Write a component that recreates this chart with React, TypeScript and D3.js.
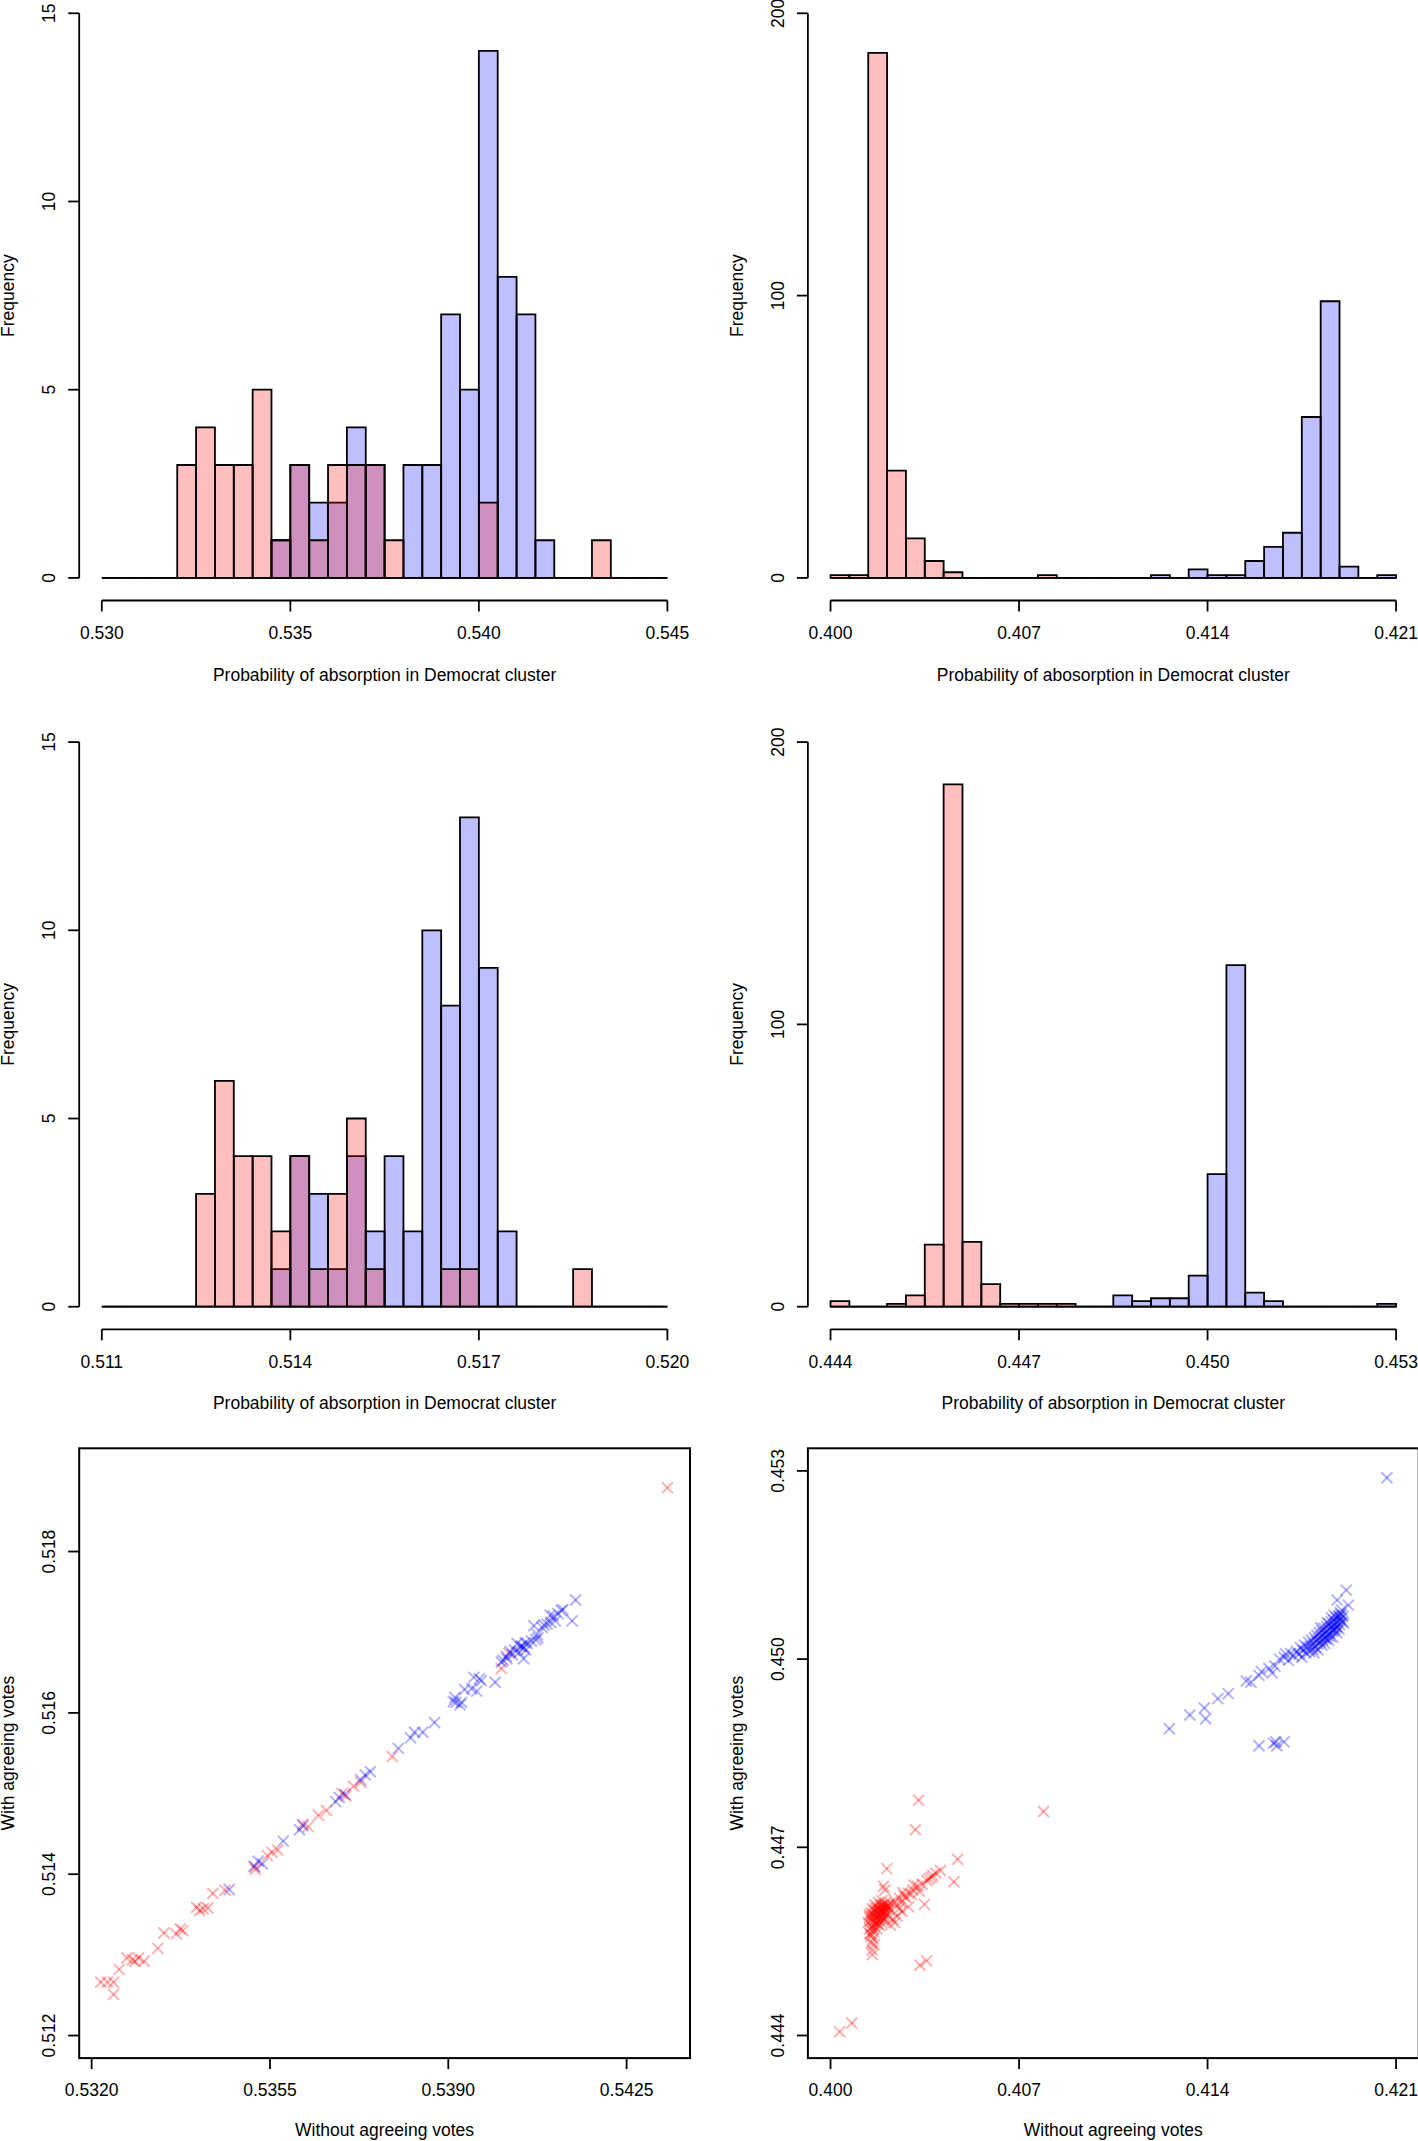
import * as d3 from "d3";

const FONT = "'Liberation Sans', Arial, Helvetica, sans-serif";
const FS = 17.5;
const COLS = [79.2, 807.9];
const ROWS = [-9.3, 719.5, 1448.3];
const PW = 610.8;
const PH = 609.8;
const RED = "rgba(255,0,0,0.25)";
const BLUE = "rgba(0,0,255,0.25)";
const RED_PT = "rgba(255,0,0,0.3)";
const BLUE_PT = "rgba(0,0,255,0.3)";

// histogram counts, 30 equal bins between first and last x tick
const senateNoAgreeRed = [0, 0, 0, 0, 3, 4, 3, 3, 5, 1, 3, 1, 3, 3, 3, 1, 0, 0, 0, 0, 2, 0, 0, 0, 0, 0, 1, 0, 0, 0];
const senateNoAgreeBlue = [0, 0, 0, 0, 0, 0, 0, 0, 0, 1, 3, 2, 2, 4, 3, 0, 3, 3, 7, 5, 14, 8, 7, 1, 0, 0, 0, 0, 0, 0];
const houseNoAgreeRed = [1, 1, 186, 38, 14, 6, 2, 0, 0, 0, 0, 1, 0, 0, 0, 0, 0, 0, 0, 0, 0, 0, 0, 0, 0, 0, 0, 0, 0, 0];
const houseNoAgreeBlue = [0, 0, 0, 0, 0, 0, 0, 0, 0, 0, 0, 0, 0, 0, 0, 0, 0, 1, 0, 3, 1, 1, 6, 11, 16, 57, 98, 4, 0, 1];
const senateAgreeRed = [0, 0, 0, 0, 0, 3, 6, 4, 4, 2, 4, 1, 3, 5, 1, 0, 0, 0, 1, 1, 0, 0, 0, 0, 0, 1, 0, 0, 0, 0];
const senateAgreeBlue = [0, 0, 0, 0, 0, 0, 0, 0, 0, 1, 4, 3, 1, 4, 2, 4, 2, 10, 8, 13, 9, 2, 0, 0, 0, 0, 0, 0, 0, 0];
const houseAgreeRed = [2, 0, 0, 1, 4, 22, 185, 23, 8, 1, 1, 1, 1, 0, 0, 0, 0, 0, 0, 0, 0, 0, 0, 0, 0, 0, 0, 0, 0, 0];
const houseAgreeBlue = [0, 0, 0, 0, 0, 0, 0, 0, 0, 0, 0, 0, 0, 0, 0, 4, 2, 3, 3, 11, 47, 121, 5, 2, 0, 0, 0, 0, 0, 1];

// ticks
const senateNoAgreeTicks = [0.53, 0.535, 0.54, 0.545];
const houseNoAgreeTicks = [0.4, 0.407, 0.414, 0.421];
const senateAgreeTicks = [0.511, 0.514, 0.517, 0.52];
const houseAgreeTicks = [0.444, 0.447, 0.45, 0.453];
const countTicksSmall = [0, 5, 10, 15];
const countTicksLarge = [0, 100, 200];
const senateScatterXTicks = [0.532, 0.5355, 0.539, 0.5425];
const senateScatterYTicks = [0.512, 0.514, 0.516, 0.518];
const senateScatterXLim = [0.5322, 0.5433];
const senateScatterYLim = [0.512, 0.519];
const houseScatterXLim = [0.4, 0.421];
const houseScatterYLim = [0.444, 0.453];

// scatter points [without agreeing, with agreeing]
const senateRedPts: [number, number][] = [
  [0.53218, 0.51266], [0.53231, 0.51266], [0.53243, 0.51266], [0.53243, 0.51251], [0.53254, 0.51282],
  [0.53269, 0.51296], [0.5328, 0.51294], [0.53285, 0.51292], [0.53292, 0.51296], [0.53303, 0.51292],
  [0.5333, 0.51308], [0.53342, 0.51327], [0.53366, 0.51326], [0.53374, 0.51332], [0.53379, 0.5133],
  [0.53406, 0.51359], [0.53412, 0.51355], [0.53419, 0.51357], [0.53428, 0.51358], [0.53438, 0.51376],
  [0.53462, 0.5138], [0.5352, 0.51409], [0.53521, 0.51406], [0.53545, 0.51423], [0.53554, 0.51427],
  [0.53565, 0.5143], [0.53614, 0.51462], [0.53625, 0.51459], [0.53645, 0.51473], [0.53661, 0.51479],
  [0.53692, 0.515], [0.53699, 0.51497], [0.53714, 0.51509], [0.53728, 0.51514], [0.5379, 0.51546],
  [0.54004, 0.51655], [0.54019, 0.51674], [0.5433, 0.51879],
];
const senateBluePts: [number, number][] = [
  [0.5347, 0.51381], [0.53519, 0.5141], [0.53527, 0.51416], [0.53535, 0.51413], [0.53576, 0.51441],
  [0.53608, 0.51455], [0.53615, 0.5146], [0.53679, 0.5149], [0.53686, 0.51495], [0.53697, 0.51499],
  [0.53728, 0.51517], [0.53737, 0.51523], [0.53747, 0.51527], [0.53802, 0.51556], [0.53826, 0.51569],
  [0.53834, 0.51576], [0.5385, 0.51576], [0.53873, 0.51588], [0.5391, 0.51614], [0.53915, 0.51613],
  [0.53923, 0.5161], [0.53932, 0.51629], [0.5395, 0.51644], [0.53956, 0.51627], [0.53961, 0.51642],
  [0.53965, 0.5164], [0.53992, 0.51638], [0.54004, 0.51663], [0.54008, 0.51665], [0.54014, 0.5167],
  [0.54021, 0.51676], [0.54035, 0.51686], [0.54044, 0.51683], [0.54048, 0.51681], [0.54051, 0.51687],
  [0.54048, 0.51667], [0.54055, 0.51686], [0.54063, 0.51689], [0.54068, 0.51708], [0.54072, 0.51691],
  [0.54076, 0.51693], [0.54088, 0.51709], [0.54094, 0.5171], [0.541, 0.51721], [0.54106, 0.5172],
  [0.5411, 0.51714], [0.54122, 0.51727], [0.54125, 0.51728], [0.54143, 0.51714], [0.5415, 0.5174],
  [0.54039, 0.51675], [0.54042, 0.51682], [0.5403, 0.51678], [0.54026, 0.51672], [0.54015, 0.51667],
  [0.53913, 0.51619], [0.53946, 0.5163], [0.54052, 0.51678], [0.54075, 0.51697], [0.54084, 0.51706],
  [0.54101, 0.51712], [0.54115, 0.51723], [0.53926, 0.51613],
];
const houseRedPts: [number, number][] = [
  [0.40034, 0.44406], [0.40079, 0.4442], [0.40327, 0.44775], [0.40315, 0.44728], [0.40791, 0.44757],
  [0.40209, 0.44666], [0.40197, 0.44638], [0.40202, 0.44632], [0.40472, 0.44681], [0.40458, 0.44645],
  [0.40349, 0.44609], [0.40332, 0.44512], [0.40357, 0.44519],
  [0.40155, 0.44529], [0.40155, 0.44536], [0.40152, 0.44547], [0.40158, 0.44554], [0.40147, 0.44563],
  [0.4015, 0.44558], [0.40162, 0.44545], [0.4016, 0.4457],
  [0.40408, 0.44663], [0.40391, 0.44659], [0.40374, 0.44652], [0.40357, 0.44647], [0.4034, 0.44641],
  [0.40323, 0.44638], [0.40306, 0.44632], [0.4029, 0.44627], [0.40273, 0.44623], [0.40256, 0.44619],
  [0.40239, 0.44614], [0.40222, 0.44611], [0.40214, 0.44605], [0.4038, 0.44655], [0.40365, 0.4465],
  [0.403, 0.44625], [0.4028, 0.4462], [0.40262, 0.44612], [0.40245, 0.44608], [0.4033, 0.4463],
  [0.4031, 0.4464], [0.40268, 0.44628],
  [0.40239, 0.4458], [0.40222, 0.44576], [0.40248, 0.4459], [0.40265, 0.44598], [0.4023, 0.44585],
  [0.4029, 0.44605], [0.40255, 0.44602],
  [0.4014, 0.4458], [0.40145, 0.44588], [0.4015, 0.44595], [0.40152, 0.44573], [0.40155, 0.44602],
  [0.40158, 0.44582], [0.4016, 0.44565], [0.40162, 0.44591], [0.40165, 0.44608], [0.40166, 0.44577],
  [0.40168, 0.44586], [0.4017, 0.44597], [0.40172, 0.4457], [0.40173, 0.44604], [0.40175, 0.44583],
  [0.40177, 0.44592], [0.40178, 0.44612], [0.4018, 0.44576], [0.40182, 0.44599], [0.40183, 0.44587],
  [0.40185, 0.44606], [0.40187, 0.44581], [0.40188, 0.44594], [0.4019, 0.44615], [0.40192, 0.44589],
  [0.40193, 0.44601], [0.40195, 0.44584], [0.40197, 0.44609], [0.40198, 0.44596], [0.402, 0.44603],
  [0.40202, 0.4459], [0.40204, 0.44611], [0.40206, 0.44598], [0.40208, 0.44605], [0.40211, 0.44593],
  [0.40145, 0.4457], [0.40148, 0.44562], [0.40151, 0.44584], [0.40157, 0.44594], [0.40163, 0.44599],
  [0.40169, 0.4458], [0.40174, 0.44589], [0.40179, 0.44601], [0.40184, 0.44593], [0.40189, 0.44608],
  [0.40194, 0.44598], [0.40199, 0.44587], [0.40143, 0.44592], [0.40161, 0.44574], [0.40176, 0.44578],
  [0.40186, 0.446], [0.40196, 0.44605], [0.40153, 0.4459], [0.40167, 0.44602], [0.40181, 0.44585],
  [0.40191, 0.44596], [0.40201, 0.44607], [0.40212, 0.446], [0.40215, 0.44608], [0.40218, 0.44602],
];
const houseBluePts: [number, number][] = [
  [0.4174, 0.45008], [0.41745, 0.45018], [0.4175, 0.45003], [0.41755, 0.45014], [0.4176, 0.45022],
  [0.41765, 0.4501], [0.4177, 0.45019], [0.41775, 0.45027], [0.41778, 0.45012], [0.41782, 0.45021],
  [0.41786, 0.4503], [0.4179, 0.45016], [0.41793, 0.45025], [0.41797, 0.45034], [0.418, 0.45019],
  [0.41803, 0.45029], [0.41806, 0.45038], [0.41809, 0.45024], [0.41812, 0.45032], [0.41815, 0.45042],
  [0.41818, 0.45027], [0.41821, 0.45036], [0.41824, 0.45045], [0.41827, 0.45031], [0.4183, 0.4504],
  [0.41833, 0.45049], [0.41836, 0.45034], [0.41839, 0.45043], [0.41842, 0.45052], [0.41845, 0.45037],
  [0.41848, 0.45047], [0.41851, 0.45056], [0.41854, 0.45041], [0.41857, 0.4505], [0.4186, 0.45059],
  [0.41863, 0.45044], [0.41866, 0.45053], [0.41869, 0.45062], [0.41872, 0.45048], [0.41875, 0.45057],
  [0.41878, 0.45066], [0.41881, 0.45051], [0.41884, 0.4506], [0.41887, 0.45069], [0.4189, 0.45055],
  [0.41893, 0.45064], [0.41896, 0.45071], [0.41899, 0.4506], [0.4182, 0.4505], [0.41835, 0.45025],
  [0.4185, 0.4503], [0.41865, 0.45035], [0.4188, 0.45042], [0.41845, 0.45058], [0.4186, 0.45066],
  [0.4187, 0.4507], [0.41855, 0.45036], [0.4184, 0.45032], [0.41825, 0.45022], [0.4181, 0.45015],
  [0.41795, 0.4501], [0.41868, 0.45046], [0.41876, 0.45052], [0.41888, 0.45048], [0.41892, 0.45074],
  [0.41898, 0.45078], [0.41903, 0.45068], [0.41905, 0.45058],
  [0.42066, 0.45289], [0.41915, 0.4511], [0.41881, 0.45094], [0.41923, 0.45086], [0.41889, 0.45068],
  [0.41544, 0.44965], [0.41561, 0.44963], [0.41591, 0.44974], [0.41628, 0.44985], [0.4165, 0.44989],
  [0.41667, 0.45], [0.41684, 0.45003], [0.41708, 0.45009], [0.41729, 0.45012], [0.4164, 0.44978],
  [0.417, 0.44998], [0.4172, 0.45005], [0.416, 0.4498], [0.4169, 0.45008],
  [0.41258, 0.44889], [0.41334, 0.44911], [0.41388, 0.44922], [0.41393, 0.44905], [0.41438, 0.44937],
  [0.41477, 0.44945], [0.41591, 0.44862], [0.41645, 0.44866], [0.41654, 0.44868], [0.41684, 0.44868],
  [0.41657, 0.44862],
];

const padded = (lo: number, hi: number) => {
  const p = (hi - lo) * 0.04;
  return [lo - p, hi + p];
};

function XAxis({ x, bottom, ticks, digits, title, cx }: any) {
  return (
    <g>
      <line x1={x(ticks[0])} x2={x(ticks[ticks.length - 1])} y1={bottom} y2={bottom} stroke="#000" strokeWidth={1.8} />
      {ticks.map((t: number) => (
        <g key={t}>
          <line x1={x(t)} x2={x(t)} y1={bottom} y2={bottom + 11} stroke="#000" strokeWidth={1.8} />
          <text x={x(t)} y={bottom + 38.2} textAnchor="middle">{t.toFixed(digits)}</text>
        </g>
      ))}
      <text x={cx} y={bottom + 80} textAnchor="middle">{title}</text>
    </g>
  );
}

function YAxis({ y, left, ticks, digits, title, cy, drawLine }: any) {
  return (
    <g>
      {drawLine && (
        <line x1={left} x2={left} y1={y(ticks[0])} y2={y(ticks[ticks.length - 1])} stroke="#000" strokeWidth={1.8} />
      )}
      {ticks.map((t: number) => (
        <g key={t}>
          <line x1={left - 11} x2={left} y1={y(t)} y2={y(t)} stroke="#000" strokeWidth={1.8} />
          <text transform={`translate(${left - 24.2},${y(t)}) rotate(-90)`} textAnchor="middle">
            {t.toFixed(digits)}
          </text>
        </g>
      ))}
      <text transform={`translate(${left - 65.4},${cy}) rotate(-90)`} textAnchor="middle">{title}</text>
    </g>
  );
}

function Hist({ col, row, red, blue, xTicks, yTicks, title }: any) {
  const left = COLS[col];
  const top = ROWS[row];
  const x0 = xTicks[0];
  const x1 = xTicks[xTicks.length - 1];
  const x = d3.scaleLinear().domain(padded(x0, x1)).range([left, left + PW]);
  const yMax = yTicks[yTicks.length - 1];
  const y = d3.scaleLinear().domain(padded(0, yMax)).range([top + PH, top]);
  const step = (x1 - x0) / red.length;
  const bars = (counts: number[], fill: string) =>
    counts.map((c, i) => {
      const a = x(x0 + i * step);
      const b = x(x0 + (i + 1) * step);
      return (
        <path key={i} d={`M${a},${y(0)}V${y(c)}H${b}V${y(0)}Z`} fill={fill} stroke="#000" strokeWidth={1.8} />
      );
    });
  // blue drawn first, red laid over it
  return (
    <g>
      {bars(blue, BLUE)}
      {bars(red, RED)}
      <XAxis x={x} bottom={top + PH} ticks={xTicks} digits={3} title={title} cx={left + PW / 2} />
      <YAxis y={y} left={left} ticks={yTicks} digits={0} title="Frequency" cy={top + PH / 2} drawLine />
    </g>
  );
}

function Cross({ cx, cy, color }: any) {
  const r = 5.5;
  return (
    <g stroke={color} strokeWidth={2}>
      <line x1={cx - r} y1={cy - r} x2={cx + r} y2={cy + r} />
      <line x1={cx - r} y1={cy + r} x2={cx + r} y2={cy - r} />
    </g>
  );
}

function Scatter({ col, row, redPts, bluePts, xLim, yLim, xTicks, yTicks, xDigits, yDigits }: any) {
  const left = COLS[col];
  const top = ROWS[row];
  const x = d3.scaleLinear().domain(padded(xLim[0], xLim[1])).range([left, left + PW]);
  const y = d3.scaleLinear().domain(padded(yLim[0], yLim[1])).range([top + PH, top]);
  return (
    <g>
      {redPts.map((p: [number, number], i: number) => (
        <Cross key={"r" + i} cx={x(p[0])} cy={y(p[1])} color={RED_PT} />
      ))}
      {bluePts.map((p: [number, number], i: number) => (
        <Cross key={"b" + i} cx={x(p[0])} cy={y(p[1])} color={BLUE_PT} />
      ))}
      <rect x={left} y={top} width={PW} height={PH} fill="none" stroke="#000" strokeWidth={2} />
      <g>
        {xTicks.map((t: number) => (
          <g key={t}>
            <line x1={x(t)} x2={x(t)} y1={top + PH} y2={top + PH + 11} stroke="#000" strokeWidth={1.8} />
            <text x={x(t)} y={top + PH + 38.2} textAnchor="middle">{t.toFixed(xDigits)}</text>
          </g>
        ))}
        <text x={left + PW / 2} y={top + PH + 78} textAnchor="middle">Without agreeing votes</text>
      </g>
      <YAxis y={y} left={left} ticks={yTicks} digits={yDigits} title="With agreeing votes" cy={top + PH / 2} />
    </g>
  );
}

export default function App() {
  return (
    <svg
      width={1418}
      height={2141}
      style={{ position: "absolute", left: 0, top: 0, background: "#fff" }}
      fontFamily={FONT}
      fontSize={FS}
      fill="#000"
    >
      <rect x={0} y={0} width={1418} height={2141} fill="#fff" />
      <Hist col={0} row={0} red={senateNoAgreeRed} blue={senateNoAgreeBlue} xTicks={senateNoAgreeTicks}
        yTicks={countTicksSmall} title="Probability of absorption in Democrat cluster" />
      <Hist col={1} row={0} red={houseNoAgreeRed} blue={houseNoAgreeBlue} xTicks={houseNoAgreeTicks}
        yTicks={countTicksLarge} title="Probability of abosorption in Democrat cluster" />
      <Hist col={0} row={1} red={senateAgreeRed} blue={senateAgreeBlue} xTicks={senateAgreeTicks}
        yTicks={countTicksSmall} title="Probability of absorption in Democrat cluster" />
      <Hist col={1} row={1} red={houseAgreeRed} blue={houseAgreeBlue} xTicks={houseAgreeTicks}
        yTicks={countTicksLarge} title="Probability of absorption in Democrat cluster" />
      <Scatter col={0} row={2} redPts={senateRedPts} bluePts={senateBluePts} xLim={senateScatterXLim}
        yLim={senateScatterYLim} xTicks={senateScatterXTicks} yTicks={senateScatterYTicks} xDigits={4} yDigits={3} />
      <Scatter col={1} row={2} redPts={houseRedPts} bluePts={houseBluePts} xLim={houseScatterXLim}
        yLim={houseScatterYLim} xTicks={houseNoAgreeTicks} yTicks={houseAgreeTicks} xDigits={3} yDigits={3} />
    </svg>
  );
}
